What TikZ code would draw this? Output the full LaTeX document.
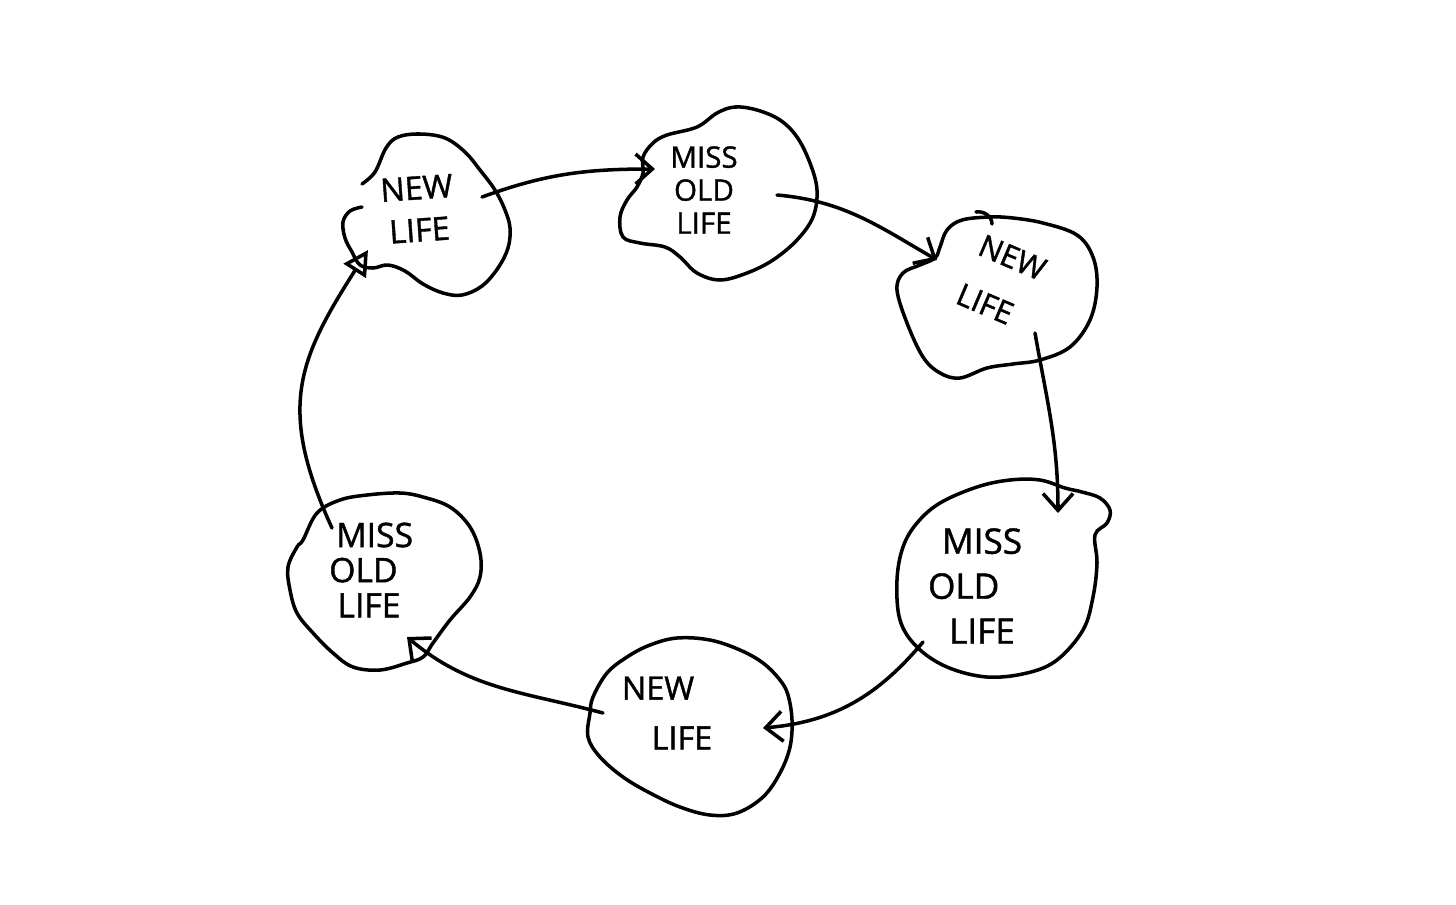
\documentclass[tikz,border=0pt]{standalone}
\usepackage{fontspec}
\setmainfont{Open Sans}[FakeBold=1.2]
\usetikzlibrary{arrows.meta,calc}
\begin{document}
\begin{tikzpicture}[x=0.025cm,y=0.025cm,
  ink/.style={line width=2.5pt, line cap=round, line join=round},
  lbl/.style={align=center, inner sep=1pt},
  arr/.style={ink, -{Straight Barb[length=0.42cm,width=0.75cm]}},
  tri/.style={ink, -{Triangle[open,length=0.62cm,width=0.65cm]}}]
\useasboundingbox[fill=white] (0,0) rectangle (1456,-904);

% blobs
\draw[ink] plot[smooth,tension=0.6] coordinates {(362,-207) (350,-211) (343,-222) (345,-238) (352,-252) (360,-265) (373,-268) (388,-265) (405,-271) (423,-284) (443,-293) (462,-295) (482,-286) (498,-268) (508,-248) (510,-228) (505,-210) (495,-190) (480,-170) (465,-152) (445,-138) (420,-134) (398,-137) (386,-148) (375,-172) (362,-184)};
\draw[ink] plot[smooth cycle,tension=0.6] coordinates {(643,-157) (653,-143) (667,-135) (697,-127) (717,-113) (735,-107) (757,-110) (780,-120) (797,-137) (810,-163) (817,-190) (813,-217) (797,-240) (773,-260) (747,-273) (720,-280) (697,-273) (680,-257) (665,-247) (640,-243) (623,-237) (620,-217) (627,-200) (637,-187) (643,-173)};
\draw[ink] plot[smooth cycle,tension=0.6] coordinates {(940,-247) (947,-230) (962,-220) (990,-217) (1013,-218) (1043,-223) (1077,-235) (1093,-257) (1097,-287) (1090,-320) (1070,-347) (1040,-360) (1013,-364) (987,-368) (960,-378) (940,-373) (923,-357) (907,-323) (897,-290) (903,-273) (920,-265) (935,-258)};
\draw[ink] (976,-212) to[out=10,in=90] (992,-224);
\draw[ink] plot[smooth cycle,tension=0.6] coordinates {(917,-523) (903,-547) (897,-580) (900,-620) (917,-647) (947,-667) (987,-677) (1027,-673) (1057,-660) (1083,-630) (1093,-597) (1097,-563) (1095,-535) (1107,-523) (1110,-510) (1100,-498) (1082,-492) (1065,-488) (1040,-480) (1010,-480) (977,-487) (940,-503)};
\draw[ink] plot[smooth cycle,tension=0.6] coordinates {(590,-713) (593,-697) (607,-673) (627,-657) (650,-645) (677,-638) (710,-640) (740,-650) (763,-663) (780,-680) (788,-695) (792,-720) (790,-747) (780,-773) (763,-797) (737,-813) (710,-815) (680,-807) (650,-793) (623,-777) (600,-757) (588,-737)};
\draw[ink] plot[smooth cycle,tension=0.6] coordinates {(303,-540) (317,-513) (340,-500) (367,-495) (400,-493) (423,-497) (450,-507) (470,-527) (480,-553) (480,-577) (470,-597) (450,-620) (433,-643) (423,-657) (407,-663) (380,-670) (353,-667) (333,-653) (313,-633) (297,-613) (290,-590) (288,-567) (297,-547)};

% labels
\node[lbl, rotate=4, font=\fontsize{23}{30}\selectfont] (n1) at (418,-209) {NEW\\LIFE};
\node[lbl, font=\fontsize{21}{23.5}\selectfont] (n2) at (704,-190) {MISS\\OLD\\LIFE};
\node[lbl, rotate=-23, font=\fontsize{22}{38}\selectfont] (n3) at (1002,-282) {NEW\\\hspace*{-10pt}LIFE};
\node[lbl, font=\fontsize{25}{32}\selectfont] (n4) at (982,-586) {MISS\\\hspace*{-26pt}OLD\\LIFE};
\node[lbl, font=\fontsize{23}{35.5}\selectfont] (n5) at (670,-713) {\hspace*{-17pt}NEW\\\hspace*{17pt}LIFE};
\node[lbl, font=\fontsize{24}{25}\selectfont] (n6) at (369,-570) {\hspace*{8pt}MISS\\\hspace*{-8pt}OLD\\LIFE};

% connectors
\draw[arr] ($(n1)+(64,12)$) to[out=20,in=180] ($(n2)+(-49,21)$);
\draw[arr] ($(n2)+(73,-5)$) to[out=-5,in=150] ($(n3)+(-65,22)$);
\draw[arr] ($(n3)+(33,-51)$) to[out=-80,in=90] ($(n4)+(76,73)$);
\draw[arr] ($(n4)+(-59,-56)$) to[out=-130,in=5] ($(n5)+(93,-15)$);
\draw[arr] ($(n5)+(-67,0)$) to[out=165,in=-40] ($(n6)+(38,-67)$);
\draw[tri] ($(n6)+(-37,42)$) .. controls +(-55,120) and +(-70,-110) .. ($(n1)+(-50,-41)$);
\end{tikzpicture}
\end{document}
